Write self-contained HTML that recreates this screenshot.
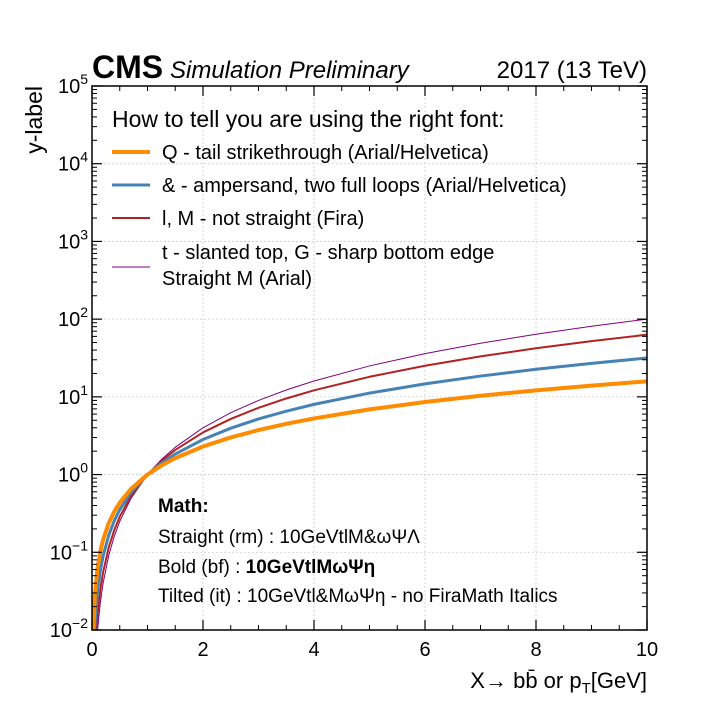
<!DOCTYPE html>
<html><head><meta charset="utf-8"><style>
html,body{margin:0;padding:0;background:#fff;}
svg{display:block;font-family:"Liberation Sans",sans-serif;}
</style></head><body>
<svg id="chart" width="720" height="720" viewBox="0 0 720 720" xmlns="http://www.w3.org/2000/svg">
<defs><clipPath id="clip"><rect x="92" y="86" width="555" height="544"/></clipPath></defs>
<rect width="720" height="720" fill="#fff"/>
<g id="grid"></g>
<g id="series" clip-path="url(#clip)"></g>
<g id="axes"></g>
<rect x="92" y="86" width="555" height="544" fill="none" stroke="#000" stroke-width="1.5"/>
<text x="92" y="78" font-size="32" font-weight="bold">CMS</text>
<text x="170" y="78" font-size="24" font-style="italic">Simulation Preliminary</text>
<text x="647" y="78" font-size="24" text-anchor="end">2017 (13 TeV)</text>
<text transform="translate(42,86) rotate(-90)" font-size="23" text-anchor="end">y-label</text>
<text x="647" y="688" font-size="22" text-anchor="end">X→  bb̄ or p<tspan font-size="15" dy="5">T</tspan><tspan dy="-5">[GeV]</tspan></text>
<g font-size="20">
<text x="112" y="127" font-size="23">How to tell you are using the right font:</text>
<line x1="112" y1="152" x2="150" y2="152" stroke="#ff8c00" stroke-width="4"/>
<text x="162" y="159">Q - tail strikethrough (Arial/Helvetica)</text>
<line x1="112" y1="185" x2="150" y2="185" stroke="#4682b4" stroke-width="3"/>
<text x="162" y="192">&amp; - ampersand, two full loops (Arial/Helvetica)</text>
<line x1="112" y1="218" x2="150" y2="218" stroke="#b22222" stroke-width="2"/>
<text x="162" y="225">l, M - not straight (Fira)</text>
<line x1="112" y1="267" x2="150" y2="267" stroke="#800080" stroke-width="1"/>
<text x="162" y="259">t - slanted top, G - sharp bottom edge</text>
<text x="162" y="285">Straight M (Arial)</text>
</g>
<g font-size="19">
<text x="158" y="512" font-weight="bold">Math:</text>
<text x="158" y="543">Straight (rm) : 10GeVtlM&amp;ωΨΛ</text>
<text x="158" y="573">Bold (bf) : <tspan font-weight="bold">10GeVtlMωΨη</tspan></text>
<text x="158" y="602">Tilted (it) : 10GeVtl&amp;MωΨη - no FiraMath Italics</text>
</g>
<script>
const xValues = [0.02,0.05,0.1,0.15,0.2,0.3,0.4,0.5,0.7,1,1.25,1.5,2,2.5,3,3.5,4,5,6,7,8,9,10];
const orangeValues = [0.00914,0.0275,0.0631,0.1027,0.145,0.236,0.333,0.435,0.652,1,1.307,1.627,2.297,3.003,3.737,4.496,5.278,6.899,8.586,10.33,12.13,13.97,15.85];
const blueValues = [0.00283,0.0112,0.0316,0.0581,0.0894,0.164,0.253,0.354,0.586,1,1.398,1.837,2.828,3.953,5.196,6.548,8,11.18,14.70,18.52,22.63,27,31.62];
const redValues = [0.00087,0.00455,0.0158,0.0329,0.0552,0.1145,0.192,0.287,0.526,1,1.494,2.075,3.482,5.20,7.225,9.53,12.13,18.12,25.15,33.2,42.2,52.2,63.1];
const purpleValues = [0.0004,0.0025,0.01,0.0225,0.04,0.09,0.16,0.25,0.49,1,1.5625,2.25,4,6.25,9,12.25,16,25,36,49,64,81,100];
const xTicks = [0,2,4,6,8,10];
const yTickExps = [-2,-1,0,1,2,3,4,5];

const X0=92,X1=647,Y0=630,Y1=86;
const sx = v => X0 + (v-0)/(10-0)*(X1-X0);
const sy = v => Y0 - (Math.log10(v)-(-2))/7*(Y0-Y1);
const NS="http://www.w3.org/2000/svg";
const grid=document.getElementById('grid'), axes=document.getElementById('axes'), ser=document.getElementById('series');
function mk(tag,attrs,parent){const e=document.createElementNS(NS,tag);for(const k in attrs)e.setAttribute(k,attrs[k]);parent.appendChild(e);return e;}

xTicks.forEach(t=>{
  const x=sx(t);
  const g=mk('line',{x1:x,x2:x,y1:Y1,y2:Y0,stroke:'#ccc','stroke-width':0.8,'stroke-dasharray':'2,2'},grid);
  
  
  [[Y0,Y0-10],[Y1,Y1+10]].forEach(p=>{const l=mk('line',{x1:x,x2:x,y1:p[0],y2:p[1],stroke:'#000','stroke-width':1.2},axes);
    
    });
  const tx=mk('text',{x:x,y:Y0+26,'font-size':20,'text-anchor':'middle'},axes);
  tx.textContent=t;
  
  
});
for(let v=0.5;v<10;v+=0.5){ if(Math.abs(v-Math.round(v/2)*2)<1e-6) continue;
  const x=sx(v);
  [[Y0,Y0-5],[Y1,Y1+5]].forEach(p=>{const l=mk('line',{x1:x,x2:x,y1:p[0],y2:p[1],stroke:'#000','stroke-width':1},axes);
    
    });
}
yTickExps.forEach(e=>{
  const y=sy(Math.pow(10,e));
  if(e>-2&&e<5){const g=mk('line',{x1:X0,x2:X1,y1:y,y2:y,stroke:'#ccc','stroke-width':0.8,'stroke-dasharray':'2,2'},grid);
    
    }
  [[X0,X0+10],[X1,X1-10]].forEach(p=>{const l=mk('line',{x1:p[0],x2:p[1],y1:y,y2:y,stroke:'#000','stroke-width':1.2},axes);
    
    });
  const tx=mk('text',{x:X0-4,y:y+7,'font-size':20,'text-anchor':'end'},axes);
  
  
  tx.appendChild(document.createTextNode('10'));
  const ts=mk('tspan',{'font-size':14,dy:-9},tx);
  ts.textContent=(e<0?'−'+(-e):String(e));
  if(e<5) for(let m=2;m<=9;m++){const yy=sy(m*Math.pow(10,e));
    [[X0,X0+5],[X1,X1-5]].forEach(p=>{const l=mk('line',{x1:p[0],x2:p[1],y1:yy,y2:yy,stroke:'#000','stroke-width':1},axes);
      
      });}
});
function draw(vals,color,w,name){
  const pts=xValues.map((x,i)=>sx(x).toFixed(2)+','+sy(vals[i]).toFixed(2)).join(' ');
  const p=mk('polyline',{points:pts,fill:'none',stroke:color,'stroke-width':w,'stroke-linejoin':'round'},ser);
  
  
}
draw(purpleValues,'#800080',1,'series-purple');
draw(redValues,'#b22222',2,'series-red');
draw(blueValues,'#4682b4',3,'series-blue');
draw(orangeValues,'#ff8c00',4,'series-orange');
</script>
</svg>
</body></html>
